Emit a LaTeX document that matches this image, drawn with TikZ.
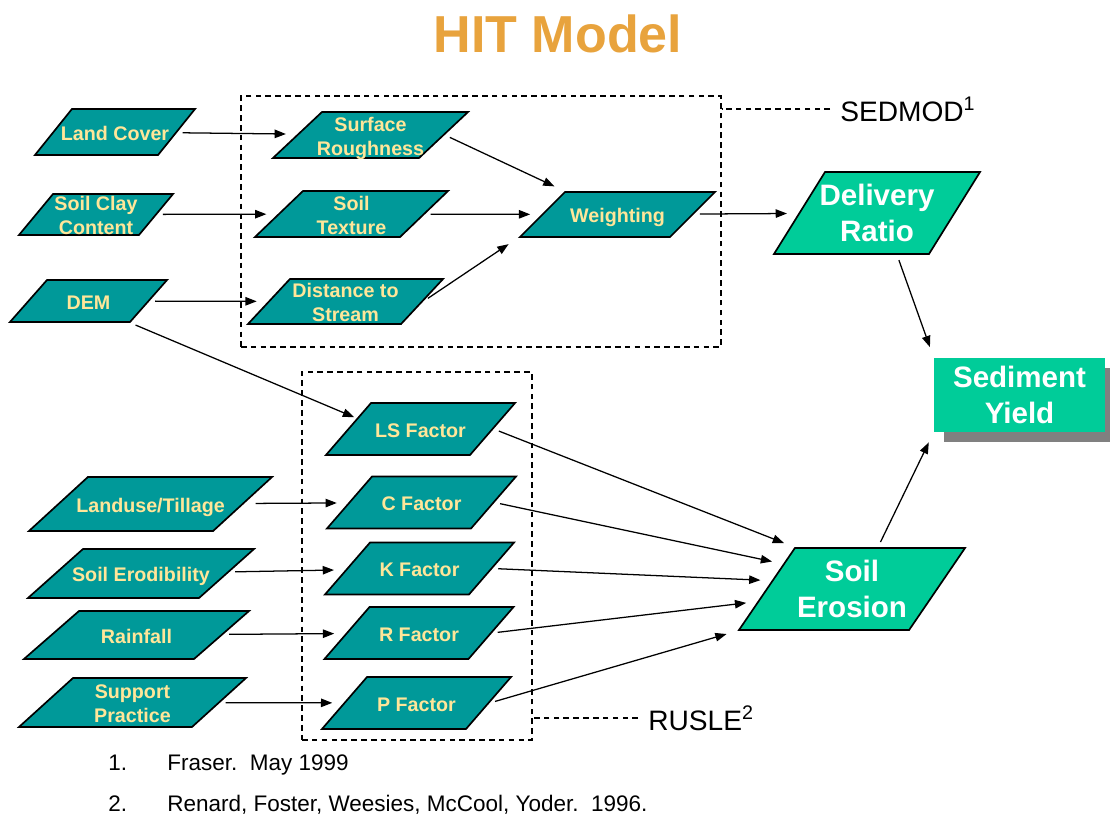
\documentclass[tikz,border=0pt]{standalone}
\usepackage{fontspec}
\setmainfont{Liberation Sans}
\usetikzlibrary{arrows.meta,shapes.geometric,shadows,calc}
\definecolor{tealbox}{HTML}{009999}
\definecolor{pale}{HTML}{FFE699}
\definecolor{mint}{HTML}{00CC99}
\definecolor{titleorg}{HTML}{E8A33D}
\definecolor{shade}{HTML}{808080}
% text block of fixed height and no width, so each box takes its size from its keys
\newcommand\boxtxt[2]{\vbox to #1{\vss\kern5pt\hbox to 0pt{\hss\begin{tabular}{@{}c@{}}#2\end{tabular}\hss}\vss}}

\begin{document}
\begin{tikzpicture}[x=0.025cm, y=-0.025cm, every node/.style={inner sep=0pt}]
  \tikzset{para/.style={trapezium, trapezium left angle=#1, trapezium right angle={180-#1},
                        trapezium stretches body, draw=black, line width=1.2pt},
           inbox/.style={fill=tealbox, text=pale, font=\fontsize{14}{17}\selectfont\bfseries},
           outbox/.style={fill=mint, text=white, font=\fontsize{21}{25}\selectfont\bfseries},
           frame/.style={draw, line width=0.9pt, dash pattern=on 4pt off 3pt},
           arr/.style={-{Triangle[length=8pt, width=6pt]}, line width=0.9pt, shorten >=8pt, shorten <=4pt},
           note/.style={font=\fontsize{20}{24}\selectfont},
           foot/.style={font=\fontsize{16}{19}\selectfont}}
  \useasboundingbox (0,0) rectangle (1110,816);
  \node[font=\fontsize{37}{40}\selectfont\bfseries, text=titleorg, anchor=base] (title) at (558,52) {HIT Model};
  % dashed model frames
  \node[frame, minimum width=12cm, minimum height=6.275cm] (sedbox) at (481,221.5) {};
  \node[frame, minimum width=5.75cm, minimum height=9.2cm] (rusbox) at (417,556) {};
  \node[note, anchor=base west] (sedlbl) at (840,121) {SEDMOD\textsuperscript{1}};
  \node[note, anchor=base west] (ruslbl) at (648,730) {RUSLE\textsuperscript{2}};
  \draw[frame, shorten <=0.25cm] (sedlbl.west) -- (sedlbl.west -| sedbox.east);
  \draw[frame, shorten <=0.25cm] (ruslbl.west) -- (ruslbl.west -| rusbox.east);
  % SEDMOD inputs
  \node[para=51.2, inbox, minimum width=4cm] (lc) at (115,132) {\boxtxt{1.15cm}{Land Cover}};
  \node[para=50.3, inbox, minimum width=3.85cm] (sc) at (96,214.5) {\boxtxt{1.025cm}{Soil Clay\\Content}};
  \node[para=48.6, inbox, minimum width=3.925cm] (dem) at (88.5,301) {\boxtxt{1.05cm}{DEM}};
  \node[para=43.2, inbox, minimum width=4.875cm] (sr) at (370.5,135) {\boxtxt{1.15cm}{Surface\\Roughness}};
  \node[para=43.8, inbox, minimum width=4.825cm] (st) at (351.5,214) {\boxtxt{1.15cm}{Soil\\Texture}};
  \node[para=47, inbox, minimum width=4.875cm] (ds) at (345.5,301.5) {\boxtxt{1.125cm}{Distance to\\Stream}};
  \node[para=45, inbox, minimum width=4.875cm] (wt) at (617.5,214.5) {\boxtxt{1.125cm}{Weighting}};
  \node[para=58.1, outbox, minimum width=5.15cm] (dr) at (877,213) {\boxtxt{2.05cm}{Delivery\\Ratio}};
  % RUSLE inputs
  \node[para=42.5, inbox, minimum width=6.075cm] (lu) at (150.5,504) {\boxtxt{1.35cm}{Landuse/Tillage}};
  \node[para=41.7, inbox, minimum width=5.65cm] (se) at (141,573.5) {\boxtxt{1.225cm}{Soil Erodibility}};
  \node[para=41.1, inbox, minimum width=5.625cm] (rn) at (136.5,635) {\boxtxt{1.2cm}{Rainfall}};
  \node[para=42.2, inbox, minimum width=5.675cm] (sp) at (132.5,702.5) {\boxtxt{1.225cm}{Support\\Practice}};
  \node[para=49.1, inbox, minimum width=4.725cm] (ls) at (420.5,429) {\boxtxt{1.3cm}{LS Factor}};
  \node[para=49.1, inbox, minimum width=4.725cm] (cf) at (421.5,502.5) {\boxtxt{1.3cm}{C Factor}};
  \node[para=49.1, inbox, minimum width=4.725cm] (kf) at (419.5,568.5) {\boxtxt{1.3cm}{K Factor}};
  \node[para=49.1, inbox, minimum width=4.725cm] (rf) at (419,633) {\boxtxt{1.3cm}{R Factor}};
  \node[para=49.1, inbox, minimum width=4.725cm] (pf) at (416.5,703) {\boxtxt{1.3cm}{P Factor}};
  \node[para=55.7, outbox, minimum width=5.65cm] (er) at (852,589) {\boxtxt{2.05cm}{Soil\\Erosion}};
  \node[outbox, align=center, minimum width=4.275cm, minimum height=1.85cm,
        drop shadow={shadow xshift=0.25cm, shadow yshift=-0.25cm, fill=shade, opacity=1}] (sy) at (1019.5,395) {Sediment\\Yield};
  % connectors
  \draw[arr] (lc) -- (sr);
  \draw[arr] (sc) -- (st);
  \draw[arr] (dem) -- (ds);
  \draw[arr] (sr.east) -- (wt.top left corner);
  \draw[arr] (st) -- (wt);
  \draw[arr] (ds.east) -- (wt.bottom left corner);
  \draw[arr] (wt) -- (dr);
  \draw[arr] ([xshift=0.5cm]dr.south) -- (sy.north west);
  \draw[arr] ([xshift=0.65cm]er.north) -- (sy.south west);
  \draw[arr, shorten >=2pt] (dem.bottom right corner) -- ($(ls.top left corner)!0.3!(ls.bottom left corner)$);
  \draw[arr, shorten <=8pt] (lu) -- (cf);
  \draw[arr] (se) -- (kf);
  \draw[arr] (rn) -- (rf);
  \draw[arr] (sp) -- (pf);
  \draw[arr] (ls.east) -- (er.top left corner);
  \draw[arr] (cf.east) -- ($(er.top left corner)!0.2!(er.bottom left corner)$);
  \draw[arr] (kf.east) -- ($(er.top left corner)!0.4!(er.bottom left corner)$);
  \draw[arr] (rf.east) -- ($(er.top left corner)!0.65!(er.bottom left corner)$);
  \draw[arr] (pf.east) -- (er.bottom left corner);
  % references
  \node[foot, anchor=base west] (n1) at (108,770) {1.};
  \node[foot, anchor=base west] (r1) at (167,770) {Fraser.\ \ May 1999};
  \node[foot, anchor=base west] (n2) at (108,811) {2.};
  \node[foot, anchor=base west] (r2) at (167,811) {Renard, Foster, Weesies, McCool, Yoder.\ \ 1996.};
\end{tikzpicture}
\end{document}
